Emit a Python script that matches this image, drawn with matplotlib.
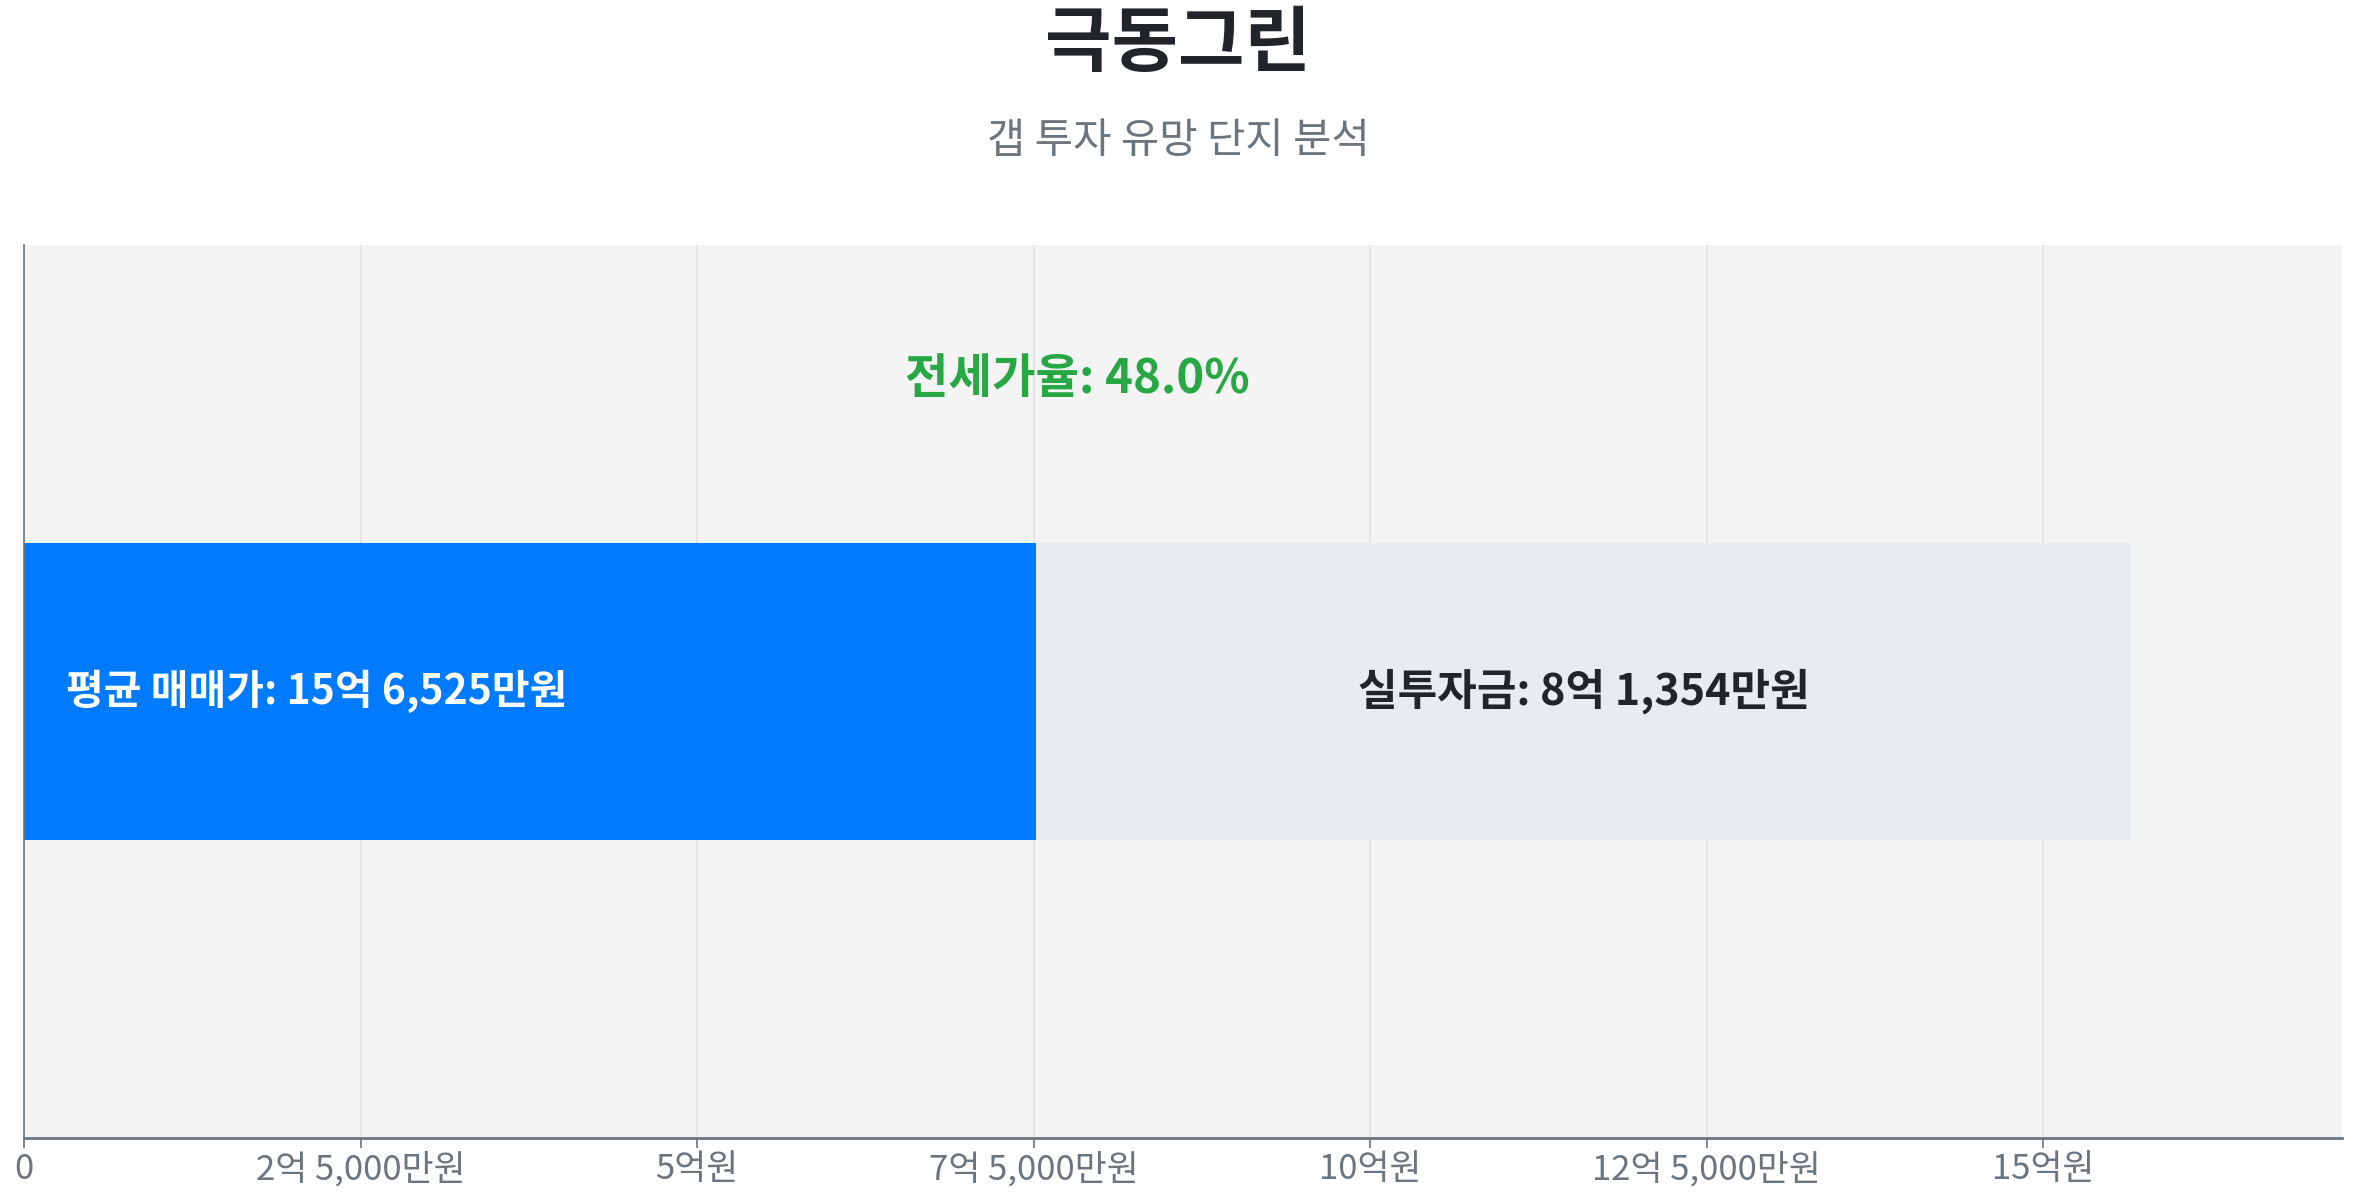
import matplotlib
matplotlib.use("Agg")
from matplotlib import pyplot as plt
from matplotlib.ticker import FixedLocator

plt.rcParams['font.family'] = ['Noto Sans CJK KR', 'DejaVu Sans']

# 단위: 만원
complex_name = "극동그린"
avg_price = 156525
invest_amount = 81354
jeonse_price = avg_price - invest_amount
jeonse_ratio = 48.0
tick_values = [0, 25000, 50000, 75000, 100000, 125000, 150000]
tick_labels = ["0", "2억 5,000만원", "5억원", "7억 5,000만원", "10억원", "12억 5,000만원", "15억원"]


def won(v):
    eok, man = divmod(int(v), 10000)
    if eok and man:
        return f"{eok}억 {man:,}만원"
    if eok:
        return f"{eok}억원"
    return f"{man:,}만원"


fig = plt.figure(figsize=(23.57, 12), dpi=100)
ax = fig.add_axes([0.0102, 0.0517, 0.9834, 0.7443])
ax.set_facecolor("#f4f4f4")

ax.barh(0, jeonse_price, height=1, color="#007bff", zorder=2)
ax.barh(0, invest_amount, left=jeonse_price, height=1, color="#e9ecef", zorder=2)

ax.text(avg_price * 0.02, 0, "평균 매매가: " + won(avg_price), color="white",
        fontsize=29.5, fontweight="bold", va="center", ha="left", zorder=3)
ax.text(jeonse_price + invest_amount / 2, 0, "실투자금: " + won(invest_amount), color="#212529",
        fontsize=31, fontweight="bold", va="center", ha="center", zorder=3)
ax.text(avg_price / 2, 1.05, f"전세가율: {jeonse_ratio:.1f}%", color="#28a745",
        fontsize=34, fontweight="bold", va="center", ha="center", zorder=3)

ax.set_xlim(0, avg_price * 1.1)
ax.set_ylim(-1.5, 1.5)
ax.xaxis.set_major_locator(FixedLocator(tick_values))
ax.set_xticklabels(tick_labels)
ax.set_yticks([])
ax.tick_params(axis="x", labelsize=25, colors="#6c757d", length=7, width=1.2, pad=3)
ax.grid(axis="x", color="#e3e3e3", linewidth=1.2, zorder=1)

for side in ["top", "right"]:
    ax.spines[side].set_visible(False)
ax.spines["left"].set_color("#6c757d")
ax.spines["left"].set_linewidth(1.2)
ax.spines["bottom"].set_color("#6c757d")
ax.spines["bottom"].set_linewidth(2)

fig.text(0.5, 0.963, complex_name, ha="center", va="center", fontsize=52,
         fontweight="bold", color="#212529")
fig.text(0.5, 0.882, "갭 투자 유망 단지 분석", ha="center", va="center", fontsize=30,
         color="#6c757d")

fig.savefig("out.png", dpi=100)
